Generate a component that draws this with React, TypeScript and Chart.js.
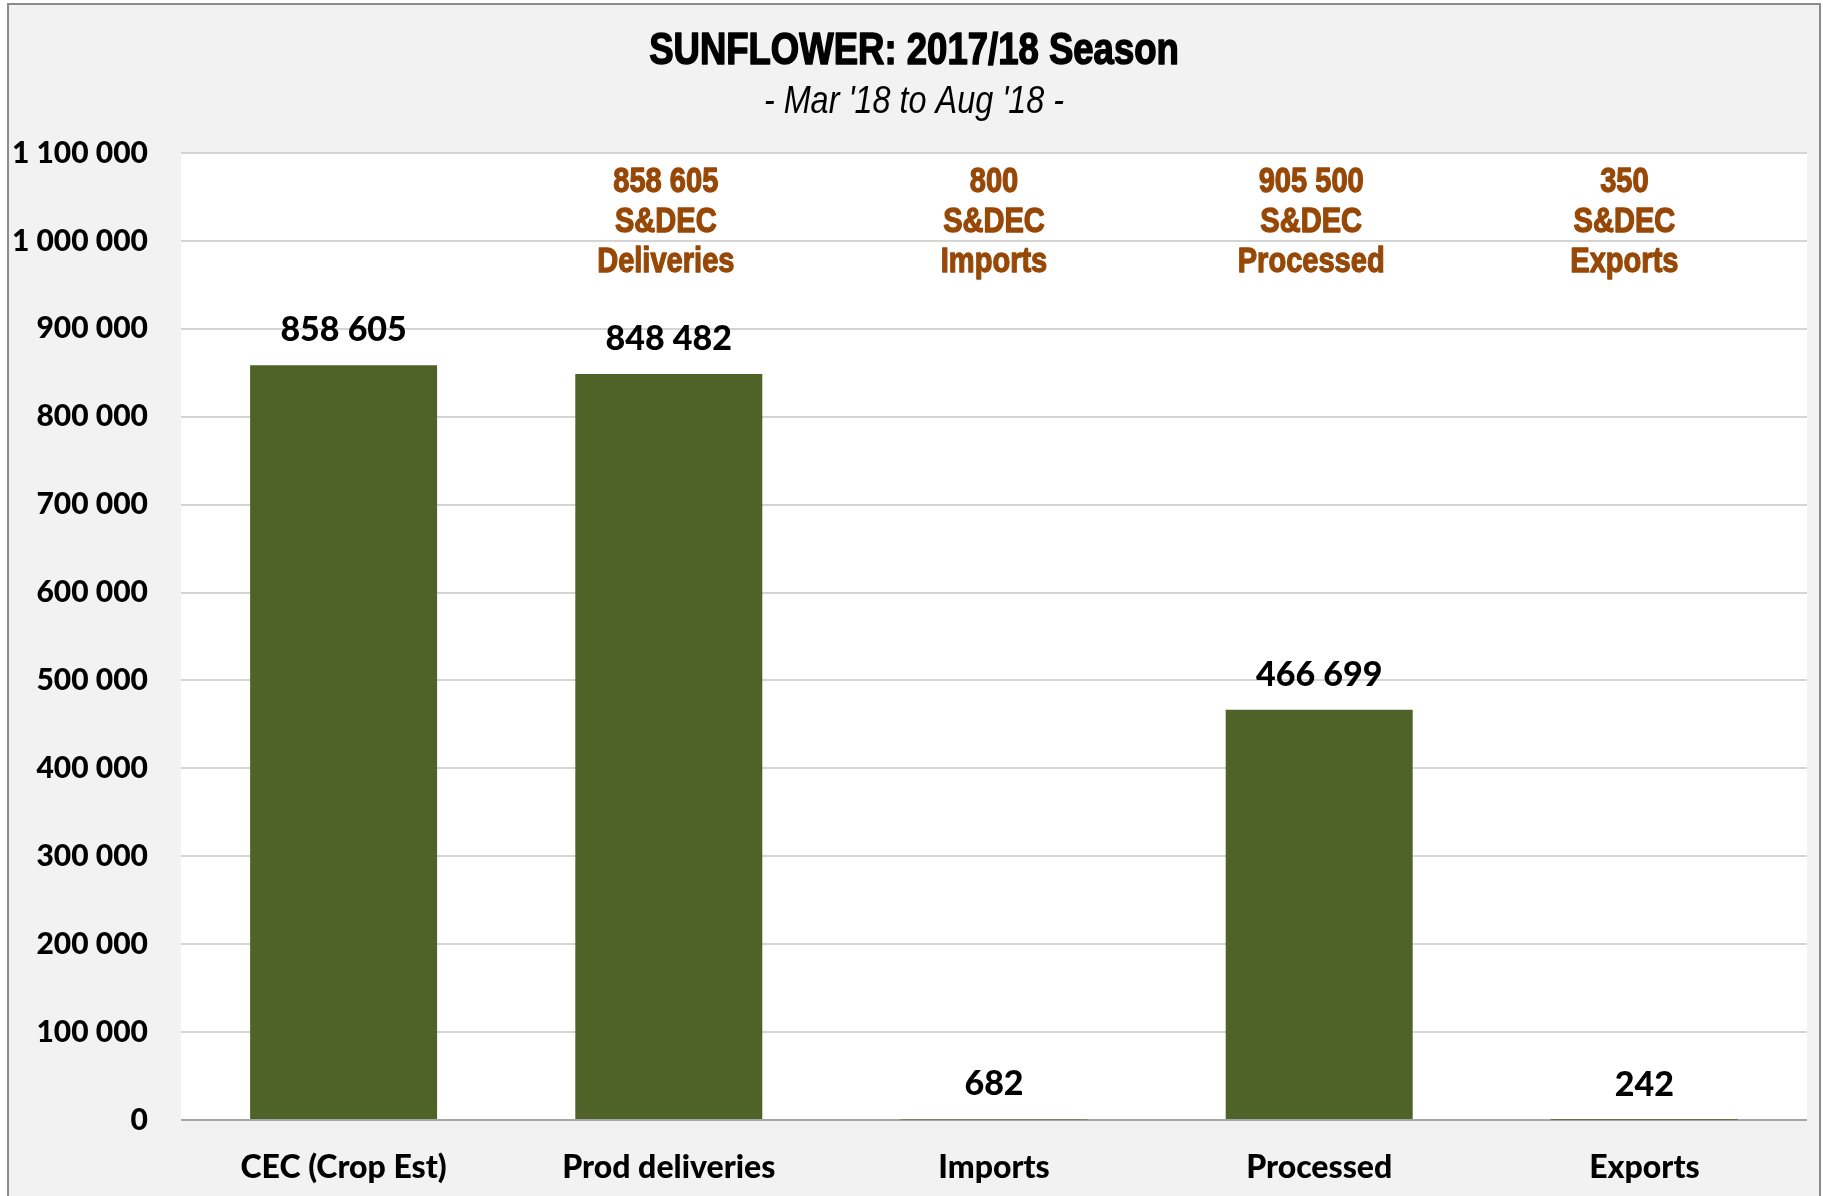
import React, { useEffect, useRef } from "react";
import { Chart, registerables } from "chart.js";

Chart.register(...registerables);

const categories = ["CEC (Crop Est)", "Prod deliveries", "Imports", "Processed", "Exports"];
const values = [858605, 848482, 682, 466699, 242];
const sdecValues: (number | null)[] = [null, 858605, 800, 905500, 350];
const sdecLabels: (string | null)[] = [null, "Deliveries", "Imports", "Processed", "Exports"];
const yMin = 0;
const yMax = 1100000;
const yStep = 100000;
const titleText = "SUNFLOWER: 2017/18 Season";
const subtitleText = "- Mar '18 to Aug '18 -";

const fmt = (n: number) => String(n).replace(/\B(?=(\d{3})+(?!\d))/g, " ");

const ARIAL = '"Liberation Sans", Arial, sans-serif';
const MAIN = 'Lato, "Open Sans", sans-serif';
const BROWN = "#974806";
const sdecDx = [0, -3, 0, -8, -20];

function drawScaled(ctx: any, text: string, x: number, y: number, sx: number, stroke: number) {
  ctx.save();
  ctx.translate(x, y);
  ctx.scale(sx, 1);
  ctx.fillText(text, 0, 0);
  if (stroke > 0) {
    ctx.lineWidth = stroke;
    ctx.lineJoin = "round";
    ctx.strokeText(text, 0, 0);
  }
  ctx.restore();
}

const decorPlugin = {
  id: "decor",
  beforeDraw(chart: any) {
    const { ctx, chartArea: a } = chart;
    ctx.save();
    ctx.fillStyle = "#ffffff";
    ctx.fillRect(a.left, a.top, a.right - a.left, a.bottom - a.top);
    ctx.restore();
  },
  afterDatasetsDraw(chart: any) {
    const { ctx, chartArea: a } = chart;
    const meta = chart.getDatasetMeta(0);
    ctx.save();
    ctx.textAlign = "center";
    ctx.textBaseline = "alphabetic";
    ctx.fillStyle = "#000";
    ctx.font = `900 34px ${MAIN}`;
    meta.data.forEach((el: any, i: number) => {
      ctx.fillText(fmt(values[i]), el.x, el.y - 24);
    });
    ctx.fillStyle = BROWN;
    ctx.strokeStyle = BROWN;
    ctx.font = `bold 35px ${ARIAL}`;
    meta.data.forEach((el: any, i: number) => {
      const v = sdecValues[i];
      if (v == null) return;
      const x = el.x + sdecDx[i];
      drawScaled(ctx, fmt(v), x, a.top + 39, 0.83, 1.3);
      drawScaled(ctx, "S&DEC", x, a.top + 79, 0.83, 1.3);
      drawScaled(ctx, sdecLabels[i] as string, x, a.top + 119, 0.83, 1.3);
    });
    ctx.restore();
  },
  afterDraw(chart: any) {
    const { ctx, width } = chart;
    ctx.save();
    ctx.textAlign = "center";
    ctx.textBaseline = "alphabetic";
    ctx.fillStyle = "#000";
    ctx.strokeStyle = "#000";
    ctx.font = `bold 44px ${ARIAL}`;
    drawScaled(ctx, titleText, width / 2, 59, 0.83, 1.5);
    ctx.font = `italic 39px ${ARIAL}`;
    drawScaled(ctx, subtitleText, width / 2, 108, 0.83, 0);
    ctx.restore();
  },
};

export default function App() {
  const ref = useRef<HTMLCanvasElement>(null);
  useEffect(() => {
    if (!ref.current) return;
    const chart = new Chart(ref.current, {
      type: "bar",
      data: {
        labels: categories,
        datasets: [
          {
            data: values,
            backgroundColor: "#4F6228",
            borderWidth: 0,
            categoryPercentage: 1,
            barPercentage: 0.575,
          },
        ],
      },
      options: {
        responsive: false,
        animation: false,
        devicePixelRatio: 1,
        layout: { padding: { top: 148, left: 0, right: 12, bottom: 0 } },
        plugins: {
          legend: { display: false },
          title: { display: false },
          tooltip: { enabled: false },
        },
        scales: {
          x: {
            grid: { display: false, drawTicks: false },
            border: { display: false },
            ticks: {
              color: "#000",
              padding: 28,
              font: { family: MAIN, size: 32, weight: "900" },
              maxRotation: 0,
            },
            afterFit: (s: any) => {
              s.height = 76;
            },
          },
          y: {
            min: yMin,
            max: yMax,
            grid: {
              color: (c: any) => (c.tick && c.tick.value === 0 ? "#a6a6a6" : "#d4d4d4"),
              lineWidth: 2,
              drawTicks: false,
            },
            border: { display: false },
            ticks: {
              stepSize: yStep,
              color: "#000",
              padding: 33,
              font: { family: MAIN, size: 30, weight: "900" },
              callback: (v: any) => fmt(Number(v)),
            },
            afterFit: (s: any) => {
              s.width = 172;
            },
          },
        },
      },
      plugins: [decorPlugin],
    } as any);
    return () => chart.destroy();
  }, []);

  return (
    <div style={{ position: "fixed", left: 0, top: 0, width: 1823, height: 1196, background: "#fff", overflow: "hidden" }}>
      <div
        style={{
          position: "absolute",
          left: 7,
          top: 3,
          width: 1810,
          height: 1191,
          border: "2px solid #8c8c8c",
          background: "#f2f2f2",
        }}
      >
        <canvas ref={ref} width={1810} height={1191} style={{ display: "block", width: 1810, height: 1191 }} />
      </div>
    </div>
  );
}
